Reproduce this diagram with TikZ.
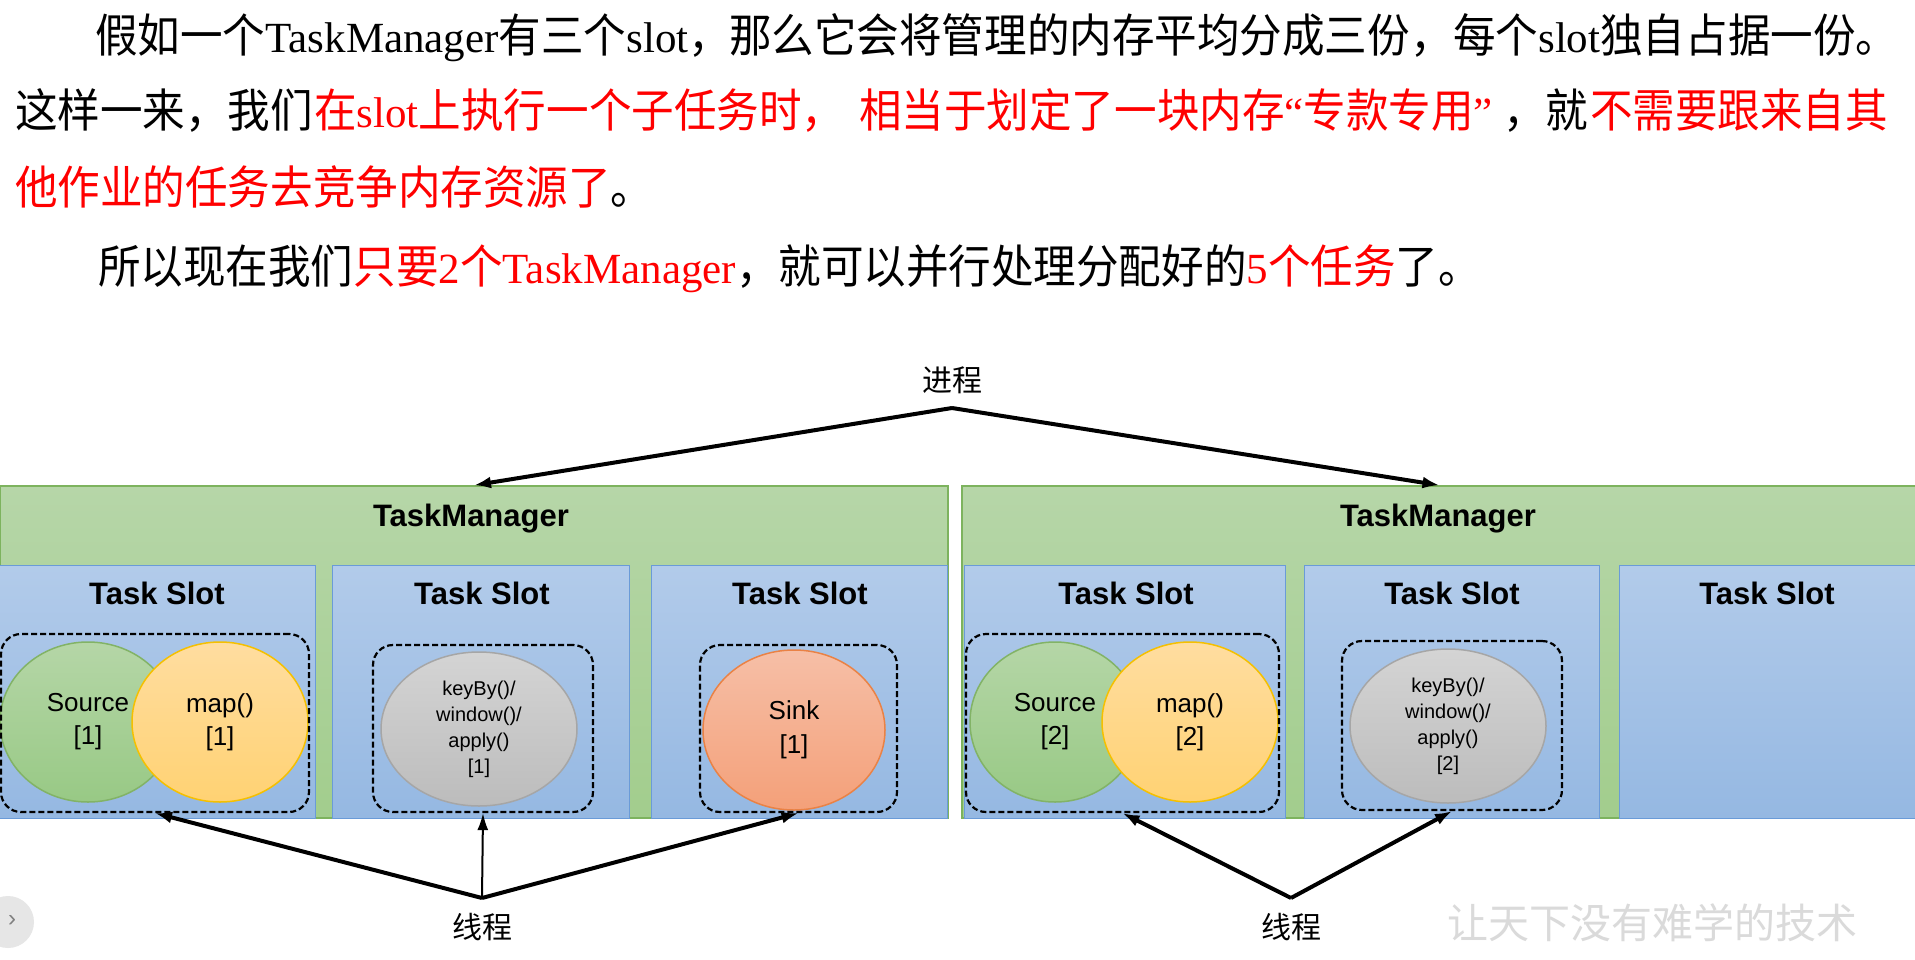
\documentclass[tikz,border=0pt]{standalone}
\usepackage{fontspec}
\setmainfont{Liberation Serif}
\setsansfont{Liberation Sans}
\newfontfamily\cjk{Noto Sans CJK SC}[FakeStretch=0.925]
\newfontfamily\cjkn{Noto Sans CJK SC}
\usetikzlibrary{arrows.meta,shapes.geometric,calc}
\newcommand\zh[1]{{\cjk\fontsize{46}{52}\selectfont #1}}
\definecolor{tmtop}{HTML}{B6D6A8}
\definecolor{tmbot}{HTML}{A2CD8D}
\definecolor{tmline}{HTML}{7DB35E}
\definecolor{sltop}{HTML}{B2CBEA}
\definecolor{slbot}{HTML}{95B8E2}
\definecolor{slline}{HTML}{6A9BD8}
\definecolor{srctop}{HTML}{B5D6A7}
\definecolor{srcbot}{HTML}{98C985}
\definecolor{srcline}{HTML}{82B366}
\definecolor{maptop}{HTML}{FFDDA0}
\definecolor{mapbot}{HTML}{FFD273}
\definecolor{mapline}{HTML}{F5C000}
\definecolor{keytop}{HTML}{D4D4D4}
\definecolor{keybot}{HTML}{BCBCBC}
\definecolor{keyline}{HTML}{A6A6A6}
\definecolor{sinktop}{HTML}{F6BFA7}
\definecolor{sinkbot}{HTML}{F4A079}
\definecolor{sinkline}{HTML}{EA8245}
\definecolor{wm}{HTML}{DADADA}
\definecolor{btn}{HTML}{E6E6E6}
\begin{document}
\begin{tikzpicture}[x=1pt,y=-1pt,
  para/.style={anchor=base west, inner sep=0pt, font=\rmfamily\fontsize{43}{52}\selectfont},
  tmbox/.style={rectangle, draw=tmline, line width=1.5pt, top color=tmtop, bottom color=tmbot, inner sep=0pt},
  slotbox/.style={rectangle, draw=slline, line width=1pt, top color=sltop, bottom color=slbot, inner sep=0pt},
  dashbox/.style={rectangle, draw=black, line width=2.2pt, dash pattern=on 6pt off 3pt, rounded corners=20pt, inner sep=0pt},
  opE/.style={ellipse, inner sep=0pt, line width=1.5pt, align=center, font=\sffamily\fontsize{26}{33}\selectfont},
  srcE/.style={opE, draw=srcline, top color=srctop, bottom color=srcbot},
  mapE/.style={opE, draw=mapline, top color=maptop, bottom color=mapbot, minimum width=176pt, minimum height=160pt},
  keyE/.style={opE, draw=keyline, top color=keytop, bottom color=keybot, minimum width=196pt, minimum height=154pt, font=\sffamily\fontsize{20}{26}\selectfont},
  sinkE/.style={opE, draw=sinkline, top color=sinktop, bottom color=sinkbot, minimum width=182pt, minimum height=160pt, font=\sffamily\fontsize{26}{34}\selectfont},
  heading/.style={font=\sffamily\bfseries\fontsize{31}{37}\selectfont, inner sep=0pt, anchor=base},
  bigarrow/.style={-{Latex[length=17pt,width=12pt]}, line width=4pt},
  thinarrow/.style={-{Latex[length=17pt,width=11pt]}, line width=2pt},
  cjklabel/.style={font=\cjkn\fontsize{30}{36}\selectfont, inner sep=0pt}
]
\useasboundingbox (0,0) rectangle (1915,959);
\fill[white] (0,0) rectangle (1915,959);

% paragraph text
\node[para] (l1a) at (95,52) {\zh{假如一个}TaskManager\zh{有三个}slot\zh{，}};
\node[para] (l1b) at (729,52) {\zh{那么它会将管理的内存平均分成三份，}};
\node[para] (l1c) at (1453,52) {\zh{每个}slot\zh{独自占据一份。}};

\node[para] (l2a) at (15,127) {\zh{这样一来，我们}};
\node[para,text=red] (l2b) at (314,127) {\zh{在}slot\zh{上执行一个子任务时，}};
\node[para,text=red] (l2c) at (859,127) {\zh{相当于划定了一块内存}“\zh{专款专用}”};
\node[para] (l2d) at (1503,127) {\zh{，就}};
\node[para,text=red] (l2e) at (1590,127) {\zh{不需要跟来自其}};

\node[para] (l3) at (15,204) {\textcolor{red}{\zh{他作业的任务去竞争内存资源了}}\zh{。}};

\node[para] (l4) at (98,283) {\zh{所以现在我们}\textcolor{red}{\zh{只要}2\zh{个}TaskManager}\zh{，就可以并行处理分配好的}\textcolor{red}{5\zh{个任务}}\zh{了。}};

% process label
\node[cjklabel] (proc) at (952,380) {进程};
\coordinate (pa) at (952,408);

% task managers
\node[tmbox, minimum width=948pt, minimum height=332pt] (tm1) at (474,652) {};
\node[tmbox, minimum width=955pt, minimum height=332pt] (tm2) at (1439.5,652) {};
\node[heading] (tmt1) at (471,526) {TaskManager};
\node[heading] (tmt2) at (1438,526) {TaskManager};

% slots
\node[slotbox, minimum width=316pt, minimum height=253pt] (s1) at (157,691.5) {};
\node[slotbox, minimum width=297pt, minimum height=253pt] (s2) at (480.5,691.5) {};
\node[slotbox, minimum width=296pt, minimum height=253pt] (s3) at (799,691.5) {};
\node[slotbox, minimum width=321pt, minimum height=253pt] (s4) at (1124.5,691.5) {};
\node[slotbox, minimum width=295pt, minimum height=253pt] (s5) at (1451.5,691.5) {};
\node[slotbox, minimum width=298pt, minimum height=253pt] (s6) at (1768,691.5) {};
\node[heading] (st1) at (157,604) {Task Slot};
\node[heading] (st2) at (482,604) {Task Slot};
\node[heading] (st3) at (800,604) {Task Slot};
\node[heading] (st4) at (1126,604) {Task Slot};
\node[heading] (st5) at (1452,604) {Task Slot};
\node[heading] (st6) at (1767,604) {Task Slot};

% operators
\node[srcE, minimum width=176pt, minimum height=160pt] (src1) at (88,722) {Source\\{[1]}};
\node[mapE] (map1) at (220,722) {map()\\{[1]}};
\node[keyE] (key1) at (479,729) {keyBy()/\\window()/\\apply()\\{[1]}};
\node[sinkE] (sink1) at (794,730) {Sink\\{[1]}};
\node[srcE, minimum width=170pt, minimum height=160pt] (src2) at (1055,722) {Source\\{[2]}};
\node[mapE] (map2) at (1190,722) {map()\\{[2]}};
\node[keyE] (key2) at (1448,726) {keyBy()/\\window()/\\apply()\\{[2]}};

% dashed groups
\node[dashbox, minimum width=308pt, minimum height=178pt] (d1) at (155,723) {};
\node[dashbox, minimum width=220pt, minimum height=167pt] (d2) at (483,728.5) {};
\node[dashbox, minimum width=197pt, minimum height=167pt] (d3) at (798.5,728.5) {};
\node[dashbox, minimum width=313pt, minimum height=178pt] (d4) at (1122.5,723) {};
\node[dashbox, minimum width=220pt, minimum height=169pt] (d5) at (1452,725.5) {};

% process arrows
\draw[bigarrow] (pa) -- (tm1.north);
\draw[bigarrow] (pa) -- (tm2.north);

% threads
\node[cjklabel] (th1) at (482,927) {线程};
\node[cjklabel] (th2) at (1291,927) {线程};
\coordinate (ta1) at (482,898);
\coordinate (ta2) at (1291,898);
\draw[bigarrow] (ta1) -- (d1.south);
\draw[thinarrow] (ta1) -- (d2.south);
\draw[bigarrow] (ta1) -- (d3.south);
\draw[bigarrow] (ta2) -- (d4.south);
\draw[bigarrow] (ta2) -- (d5.south);

% watermark and side button
\node[anchor=west, inner sep=0pt, text=wm, font=\cjkn\fontsize{41}{41}\selectfont] (wmk) at (1447,923) {让天下没有难学的技术};
\node[circle, fill=btn, minimum size=52pt, inner sep=0pt] (btn) at (8,922) {};
\node[inner sep=0pt, text=gray, font=\sffamily\fontsize{24}{24}\selectfont] (btnt) at (12,921) {›};
\end{tikzpicture}
\end{document}
